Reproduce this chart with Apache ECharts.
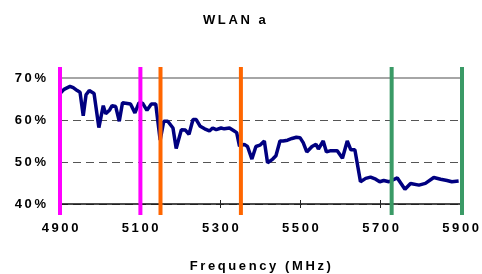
<!DOCTYPE html>
<html>
<head>
<meta charset="utf-8">
<script src="https://cdn.jsdelivr.net/npm/echarts@6/dist/echarts.min.js"></script>
<style>
  html, body { margin: 0; padding: 0; background: #fff; }
  #wlan_chart { width: 482px; height: 274px; }
</style>
</head>
<body>
<div id="wlan_chart"></div>
<script>
// data
var freqs = [4900, 4910, 4925, 4933, 4943, 4950, 4958, 4965, 4973, 4985, 4997, 5008, 5014, 5024, 5030, 5039, 5048, 5056, 5064, 5076,
  5087, 5097, 5106, 5117, 5128, 5139, 5150, 5159, 5169, 5182, 5190, 5203, 5213, 5222, 5232, 5240, 5250, 5261, 5273, 5281,
  5290, 5302, 5310, 5323, 5333, 5341, 5348, 5360, 5368, 5379, 5389, 5399, 5410, 5418, 5431, 5439, 5449, 5457, 5468, 5479,
  5490, 5499, 5507, 5516, 5529, 5539, 5545, 5557, 5565, 5576, 5592, 5605, 5617, 5626, 5636, 5650, 5663, 5675, 5688, 5698,
  5708, 5721, 5742, 5761, 5775, 5796, 5812, 5833, 5850, 5866, 5878, 5895];
var effs = [66.3, 67.3, 68.0, 67.7, 67.0, 66.6, 61.0, 66.0, 67.0, 66.3, 58.2, 63.4, 61.5, 62.4, 63.4, 63.2, 59.7, 64.1, 64.0, 63.8,
  61.7, 64.1, 64.0, 62.3, 63.8, 63.8, 55.2, 59.7, 59.7, 58.1, 53.2, 57.7, 57.6, 56.6, 60.1, 60.1, 58.5, 57.9, 57.4, 58.1,
  57.7, 58.1, 57.9, 58.1, 57.5, 57.0, 53.8, 54.2, 53.7, 50.7, 53.7, 54.0, 55.0, 49.8, 50.7, 51.5, 55.0, 55.0, 55.2, 55.6,
  55.9, 55.8, 54.6, 52.4, 53.7, 54.2, 53.1, 55.0, 52.4, 52.7, 52.7, 50.9, 55.0, 52.9, 52.9, 45.3, 46.1, 46.4, 45.9, 45.3,
  45.6, 45.3, 46.2, 43.5, 44.9, 44.5, 44.9, 46.3, 45.9, 45.6, 45.3, 45.5];

// band edges (MHz) and their colours
var bandNames = ['low', 'mid', 'high'];
var bandEdges = [[4900, 5100], [5150, 5350], [5725, 5900]];
var bandColors = ['#ff00ff', '#ff6600', '#3a9a66'];

var xTicks = [4900, 5900, 200];
var yTicks = [40, 70, 10];

var FONT = "'Liberation Sans', Arial, sans-serif";

// fake letter spacing with thin spaces
function spaced(s) {
  return String(s).split('').join('\u2009');
}

var wlan_dom = document.getElementById('wlan_chart');
var wlan_chart = echarts.init(wlan_dom, null, { renderer: 'canvas' });

var bandSeries = bandEdges.map(function (pair, i) {
  return {
    name: bandNames[i],
    type: 'line',
    xAxisIndex: 2,
    yAxisIndex: 1,
    clip: false,
    showSymbol: false,
    silent: true,
    z: 5,
    lineStyle: { color: bandColors[i], width: 4 },
    data: [[pair[0], 0], [pair[0], 1], '-', [pair[1], 0], [pair[1], 1]]
  };
});

var wlan_option = {
  animation: false,
  title: {
    text: spaced('WLAN a'),
    left: 198,
    top: 9,
    textStyle: { fontFamily: FONT, fontSize: 13, fontWeight: 'bold', color: '#000' }
  },
  grid: [
    { left: 60, right: 20, top: 78, bottom: 68 },
    { left: 60, right: 20, top: 67, bottom: 59 }
  ],
  xAxis: [
    {
      type: 'value',
      gridIndex: 0,
      min: xTicks[0],
      max: xTicks[1],
      interval: xTicks[2],
      name: spaced('Frequency (MHz)'),
      nameLocation: 'middle',
      nameGap: 56,
      nameTextStyle: { fontFamily: FONT, fontSize: 13, fontWeight: 'bold', color: '#000' },
      axisLine: { lineStyle: { color: '#111', width: 1.5 } },
      axisTick: { show: true, length: 4, lineStyle: { color: '#222' } },
      axisLabel: {
        margin: 18,
        fontFamily: FONT, fontSize: 13, fontWeight: 'bold', color: '#000',
        formatter: function (v) { return spaced(v); }
      },
      splitLine: { show: false }
    },
    {
      type: 'value',
      gridIndex: 0,
      position: 'bottom',
      min: xTicks[0],
      max: xTicks[1],
      interval: xTicks[2],
      axisLine: { show: false },
      axisTick: { show: true, inside: true, length: 4, lineStyle: { color: '#222' } },
      axisLabel: { show: false },
      splitLine: { show: false }
    },
    {
      type: 'value',
      gridIndex: 1,
      min: xTicks[0],
      max: xTicks[1],
      show: false
    }
  ],
  yAxis: [
    {
      type: 'value',
      gridIndex: 0,
      min: yTicks[0],
      max: yTicks[1],
      interval: yTicks[2],
      axisLine: { show: false },
      axisTick: { show: false },
      axisLabel: {
        margin: 14,
        fontFamily: FONT, fontSize: 13, fontWeight: 'bold', color: '#000',
        formatter: function (v) { return spaced(v + '%'); }
      },
      splitLine: { lineStyle: { color: '#555', width: 1, type: [8, 5] } }
    },
    {
      type: 'value',
      gridIndex: 1,
      min: 0,
      max: 1,
      show: false
    }
  ],
  series: [
    {
      name: 'WLAN a',
      type: 'line',
      xAxisIndex: 0,
      yAxisIndex: 0,
      showSymbol: false,
      z: 3,
      lineStyle: { color: '#000080', width: 3.5 },
      data: freqs.map(function (f, i) { return [f, effs[i]]; }),
      markLine: {
        silent: true,
        symbol: 'none',
        label: { show: false },
        lineStyle: { color: '#a6a6a6', width: 2, type: 'solid' },
        data: [{ yAxis: yTicks[1] }]
      }
    }
  ].concat(bandSeries)
};

wlan_chart.setOption(wlan_option);
window.addEventListener('resize', wlan_chart.resize);
</script>
</body>
</html>
